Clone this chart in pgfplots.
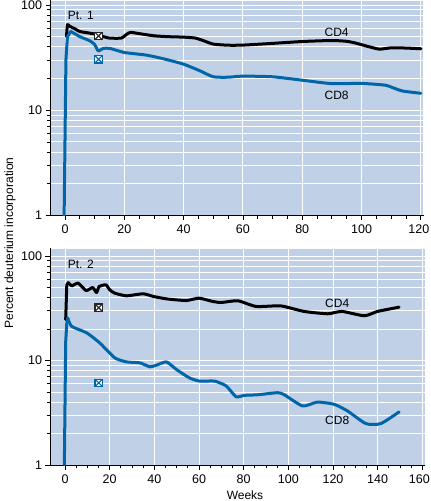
\documentclass[border=0pt]{standalone}
\usepackage{fontspec}
\setmainfont{Liberation Sans}
\usepackage{pgfplots}
\pgfplotsset{compat=1.18}
\definecolor{bgblue}{RGB}{191,208,231}
\definecolor{lineblue}{RGB}{0,102,168}
\pgfdeclareplotmark{boxx}{%
  \pgfpathrectangle{\pgfqpoint{-\pgfplotmarksize}{-\pgfplotmarksize}}{\pgfqpoint{2\pgfplotmarksize}{2\pgfplotmarksize}}%
  \pgfusepathqfillstroke
  \pgfpathmoveto{\pgfqpoint{-\pgfplotmarksize}{-\pgfplotmarksize}}\pgfpathlineto{\pgfqpoint{\pgfplotmarksize}{\pgfplotmarksize}}%
  \pgfpathmoveto{\pgfqpoint{-\pgfplotmarksize}{\pgfplotmarksize}}\pgfpathlineto{\pgfqpoint{\pgfplotmarksize}{-\pgfplotmarksize}}%
  \pgfusepathqstroke}
\tikzset{
  cd4/.style={black, line width=3pt, smooth, tension=0.35, line join=round, line cap=round},
  cd8/.style={lineblue, line width=3pt, smooth, tension=0.35, line join=round, line cap=round},
}
\pgfplotsset{
  every axis/.append style={
    scale only axis,
    ymin=1,
    ytick={1,10,100}, yticklabels={1,10,100},
    minor ytick={2,3,4,5,6,7,8,9,20,30,40,50,60,70,80,90},
    ymajorgrids=true, yminorgrids=true, xmajorgrids=true,
    grid style={white, line width=0.9pt},
    minor grid style={white, line width=0.9pt},
    axis background/.style={fill=bgblue, draw=white, line width=0.9pt},
    axis x line*=bottom, axis y line*=left,
    axis line style={black, line width=0.8pt},
    tick style={black, line width=0.8pt},
    tick align=outside,
    major tick length=5pt, minor tick length=3.5pt,
    tick label style={font=\fontsize{12.5}{14}\selectfont},
    xticklabel style={yshift=-1pt},
    /pgf/number format/assume math mode=true,
  },
}
\begin{document}
\begin{tikzpicture}
\useasboundingbox (0,0) rectangle (431pt,501pt);
% top panel
\begin{axis}[ymode=log,
  at={(50.5pt,285.5pt)}, anchor=south west,
  width=373pt, height=215.5pt,
  xmin=-4.9, xmax=120.9, ymax=111.6,
  xtick={0,20,40,60,80,100,120},
  xticklabels={0,20,40,60,80,100,{\kern-4pt 120}},
  minor xtick={5,10,15,25,30,35,45,50,55,65,70,75,85,90,95,105,110,115},
]
\addplot[cd4, mark=none] coordinates {(0.5,50) (0.8,65) (1.5,63) (2.5,61) (3.5,59) (5,56) (7.5,54.5) (10,53) (12.5,50.5) (15,48.5) (19,48.5) (20.5,52) (22,55) (25,53.5) (30,51) (35,50) (40,49.5) (44,48.5) (47,45.5) (50,42.5) (55,41.5) (60,41.6) (70,43.2) (80,45) (90,46) (95,45.2) (98,43.5) (102,40.5) (106,38.1) (110,39.2) (115,39) (120,38.4)};
\addplot[cd8, sharp plot, mark=none] coordinates {(-0.3,1) (0.3,30) (0.8,50) (1.9,56)};
\addplot[cd8, mark=none] coordinates {(1.9,56) (3,54) (5,50) (8.4,45.7) (10,42) (11.2,36.7) (12.9,38.7) (15.2,38.7) (20,35.4) (27.5,33.4) (33.7,30.6) (40,27.4) (45.5,23.7) (50,20.8) (55,20.6) (60,21.1) (70,20.8) (80,19.3) (90,17.9) (100,18) (108,17.3) (111,16.2) (114,15.2) (120,14.5)};
\addplot[only marks, mark=boxx, mark size=3.7pt, draw=black!85, fill=white, line width=1.1pt] coordinates {(11.3,50.8)};
\addplot[only marks, mark=boxx, mark size=3.7pt, draw=lineblue, fill=white, line width=1.1pt] coordinates {(11.3,30.5)};
\node[anchor=west, font=\fontsize{12}{14}\selectfont, inner sep=0pt] at (axis cs:0.9,80) {Pt. 1};
\node[font=\fontsize{12}{14}\selectfont] at (axis cs:91.6,55) {CD4};
\node[font=\fontsize{12}{14}\selectfont] at (axis cs:91.6,13.7) {CD8};
\end{axis}
% bottom panel
\begin{axis}[ymode=log,
  at={(50.5pt,36pt)}, anchor=south west,
  width=374.5pt, height=217pt,
  xmin=-6.5, xmax=161.2, ymax=119.3,
  xtick={0,20,40,60,80,100,120,140,160},
  xticklabels={0,20,40,60,80,100,120,140,{\kern-6pt 160}},
  minor xtick={5,10,15,25,30,35,45,50,55,65,70,75,85,90,95,105,110,115,125,130,135,145,150,155},
]
\addplot[cd4, sharp plot, mark=none] coordinates {(0.3,24.6) (0.8,53) (1.5,55.7)};
\addplot[cd4, mark=none] coordinates {(1.5,55.7) (3,51.8) (5.9,55) (9.4,46.7) (12.4,49.9) (14.1,44.7) (15.3,51) (18.3,53) (20,47.5) (22.3,44.1) (27.5,41.6) (35,43.5) (39.4,41.1) (45.4,38.9) (54.3,37.5) (60,39.5) (66.2,36.7) (70,35.9) (77.4,37.3) (85.6,32.9) (96.7,33.3) (107,29.5) (117.6,28) (124,29.5) (134,26.8) (140,29.5) (149.6,32.4)};
\addplot[cd8, sharp plot, mark=none] coordinates {(-0.3,1) (0.3,15) (0.8,23) (1.2,25.5)};
\addplot[cd8, mark=none] coordinates {(1.2,25.5) (3,21.2) (9.7,18.4) (15.6,14.7) (22.3,10.6) (27.5,9.7) (33.5,9.5) (38,8.7) (40.8,9.0) (45.4,9.7) (49.9,8.2) (55.8,6.8) (60.3,6.35) (67,6.35) (72.2,5.7) (76.6,4.5) (80.4,4.64) (86.3,4.7) (95.2,4.92) (98.2,4.7) (106.4,3.67) (113,4.0) (120.5,3.81) (126.5,3.29) (134.7,2.49) (141.4,2.49) (149.6,3.22)};
\addplot[only marks, mark=boxx, mark size=3.7pt, draw=black!85, fill=white, line width=1.1pt] coordinates {(15.1,32)};
\addplot[only marks, mark=boxx, mark size=3.7pt, draw=lineblue, fill=white, line width=1.1pt] coordinates {(15.1,6.1)};
\node[anchor=west, font=\fontsize{12}{14}\selectfont, inner sep=0pt] at (axis cs:1.2,83.8) {Pt. 2};
\node[font=\fontsize{12}{14}\selectfont] at (axis cs:121.9,35.3) {CD4};
\node[font=\fontsize{12}{14}\selectfont] at (axis cs:121.9,2.7) {CD8};
\end{axis}
\node[rotate=90, font=\fontsize{12}{14}\selectfont] at (10pt,258pt) {Percent deuterium incorporation};
\node[anchor=base, font=\fontsize{12}{14}\selectfont] at (245pt,1.5pt) {Weeks};
\end{tikzpicture}
\end{document}
